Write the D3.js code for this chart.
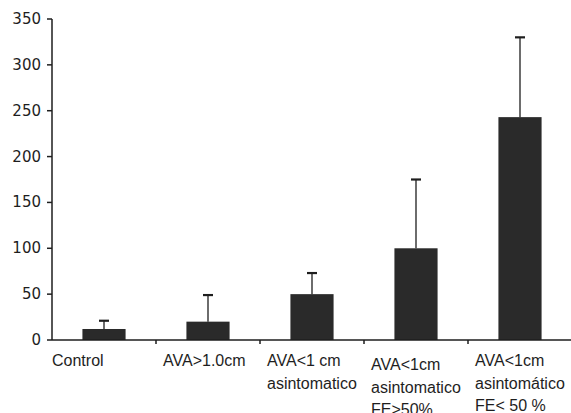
<!DOCTYPE html>
<html lang="es">
<head>
    <meta charset="UTF-8">
    <title>AVA - barras</title>
    <style>
        body { margin: 0; background: #fff; }
        svg { display: block; }
        text { font-family: "DejaVu Sans", Arial, sans-serif; fill: #1e1e1e; }
        .cat { font-family: "Liberation Sans", Arial, sans-serif; }
    </style>
</head>
<body>
    <svg id="chart" width="571" height="413"></svg>

    <script src="https://d3js.org/d3.v7.min.js"></script>
    <script>
        // Datos
        const categories = ["Control", "AVA>1.0cm", "AVA<1 cm", "AVA<1cm FE>50", "AVA<1cm FE<50"];
        const labelLines = [
            ["Control"],
            ["AVA>1.0cm"],
            ["AVA<1 cm", "asintomatico"],
            ["AVA<1cm", "asintomatico", "FE>50%"],
            ["AVA<1cm", "asintomático", "FE< 50 %"]
        ];
        const means = [12, 20, 50, 100, 243];
        const errTops = [21, 49, 73, 175, 330];
        const yTicks = [0, 50, 100, 150, 200, 250, 300, 350];

        const svg = d3.select("#chart");
        const mLeft = 52, mRight = 572, mTop = 19, mBottom = 340;
        const ink = "#1e1e1e";

        const x = d3.scaleBand().domain(categories).range([mLeft, mRight]).padding(0);
        const y = d3.scaleLinear().domain([0, 350]).range([mBottom, mTop]);
        const barW = x.bandwidth() * 0.415;

        // eje Y
        svg.append("line")
            .attr("x1", mLeft).attr("x2", mLeft)
            .attr("y1", y(350)).attr("y2", mBottom)
            .attr("stroke", ink).attr("stroke-width", 1.5);

        yTicks.forEach(t => {
            svg.append("line")
                .attr("x1", mLeft - 5).attr("x2", mLeft)
                .attr("y1", y(t)).attr("y2", y(t))
                .attr("stroke", ink).attr("stroke-width", 1.5);
            svg.append("text")
                .attr("x", 41).attr("y", y(t) + 5)
                .attr("text-anchor", "end")
                .attr("font-size", 15)
                .text(t);
        });

        // barras
        categories.forEach((c, i) => {
            const cx = x(c) + x.bandwidth() / 2;
            svg.append("rect")
                .attr("x", cx - barW / 2)
                .attr("y", y(means[i]))
                .attr("width", barW)
                .attr("height", mBottom - y(means[i]))
                .attr("fill", "#2a2a2a");

            // barra de error (solo superior)
            svg.append("line")
                .attr("x1", cx).attr("x2", cx)
                .attr("y1", y(means[i])).attr("y2", y(errTops[i]))
                .attr("stroke", ink).attr("stroke-width", 1.3);
            svg.append("line")
                .attr("x1", cx - 5).attr("x2", cx + 5)
                .attr("y1", y(errTops[i])).attr("y2", y(errTops[i]))
                .attr("stroke", ink).attr("stroke-width", 2.2);
        });

        // eje X
        svg.append("line")
            .attr("x1", mLeft).attr("x2", mRight)
            .attr("y1", mBottom).attr("y2", mBottom)
            .attr("stroke", ink).attr("stroke-width", 1.5);

        categories.slice(1).forEach(c => {
            svg.append("line")
                .attr("x1", x(c)).attr("x2", x(c))
                .attr("y1", mBottom).attr("y2", mBottom + 4)
                .attr("stroke", ink).attr("stroke-width", 1.5);
        });

        // etiquetas de categoría
        labelLines.forEach((lines, i) => {
            const x0 = x(categories[i]) + (i === 0 ? 0 : 7);
            const shift = i === 3 ? 4 : 0;
            const t = svg.append("text")
                .attr("class", "cat")
                .attr("x", x0)
                .attr("font-size", 16);
            lines.forEach((line, k) => {
                t.append("tspan")
                    .attr("x", x0)
                    .attr("y", 366 + shift + k * 22.5)
                    .text(line);
            });
        });
    </script>
</body>
</html>
